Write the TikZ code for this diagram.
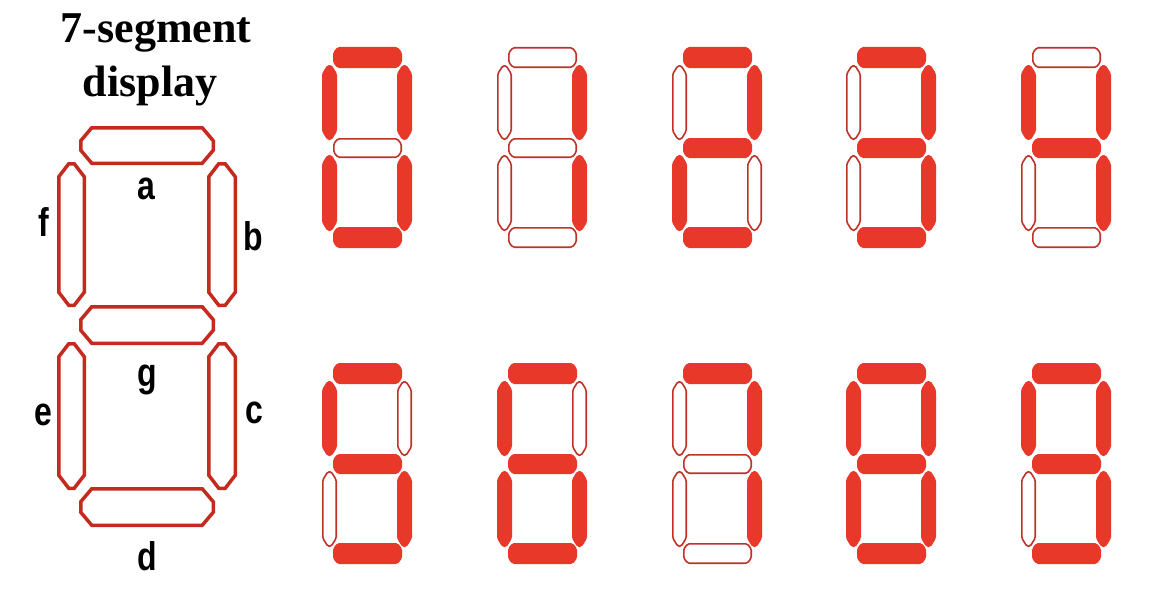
\documentclass[tikz,border=0pt]{standalone}
\usepackage{fontspec}
\setmainfont{Liberation Serif}
\newfontfamily\labfont{Liberation Sans}
\definecolor{litred}{HTML}{E8382A}
\definecolor{offred}{HTML}{BE3328}
\definecolor{bigred}{HTML}{C42A1E}
% octagonal segment: [style]{x1}{y1}{x2}{y2}{cx}{cy}{inset}
\newcommand{\octseg}[8][]{%
  \path[#1] ({#2+#8+#6},{#3+#8}) -- ({#4-#8-#6},{#3+#8}) -- ({#4-#8},{#3+#8+#7}) --
    ({#4-#8},{#5-#8-#7}) -- ({#4-#8-#6},{#5-#8}) -- ({#2+#8+#6},{#5-#8}) --
    ({#2+#8},{#5-#8-#7}) -- ({#2+#8},{#3+#8+#7}) -- cycle;}
% small digit: {ox}{oy}{a}{b}{c}{d}{e}{f}{g}
\newcommand{\smalldigit}[9]{%
  \octseg[s#3]{#1+11}{#2+0}{#1+80}{#2+21}{4}{5}{0.8}
  \octseg[s#4]{#1+75}{#2+18}{#1+90}{#2+93}{5}{8}{0.8}
  \octseg[s#5]{#1+75}{#2+108}{#1+90}{#2+184}{5}{8}{0.8}
  \octseg[s#6]{#1+11}{#2+180}{#1+80}{#2+201}{4}{5}{0.8}
  \octseg[s#7]{#1+0}{#2+108}{#1+15}{#2+184}{5}{8}{0.8}
  \octseg[s#8]{#1+0}{#2+18}{#1+15}{#2+93}{5}{8}{0.8}
  \octseg[s#9]{#1+11}{#2+91}{#1+80}{#2+111}{4}{5}{0.8}}
\tikzset{
  s1/.style={fill=litred, draw=litred, line width=1.6pt, rounded corners=1.5pt},
  s0/.style={draw=offred, line width=1.6pt, rounded corners=1.5pt},
  bigseg/.style={draw=bigred, line width=3.5pt},
  seglabel/.style={font=\labfont\bfseries\fontsize{32}{32}\selectfont, inner sep=0pt, yscale=1.25, transform shape},
  title/.style={font=\bfseries\fontsize{44}{44}\selectfont, inner sep=0pt, anchor=base}
}
\begin{document}
\begin{tikzpicture}[x=1pt, y=-1pt]
\path[use as bounding box, fill=white] (0,0) rectangle (1150,594);
% title
\node[title] (t1) at (156,42) {7-segment};
\node[title] (t2) at (150,96) {display};
% big display
\octseg[bigseg]{79}{126}{215}{165}{11}{13}{1.75}
\octseg[bigseg]{79}{305}{215}{345}{11}{13}{1.75}
\octseg[bigseg]{79}{487}{215}{527}{11}{13}{1.75}
\octseg[bigseg]{57}{162}{86}{307}{10}{13}{1.75}
\octseg[bigseg]{57}{342}{86}{490}{10}{13}{1.75}
\octseg[bigseg]{207}{162}{237}{307}{10}{13}{1.75}
\octseg[bigseg]{207}{342}{237}{490}{10}{13}{1.75}
% labels
\node[seglabel] (la) at (146,189) {a};
\node[seglabel] (lb) at (253,236) {b};
\node[seglabel] (lc) at (254,413) {c};
\node[seglabel] (ld) at (147,556) {d};
\node[seglabel] (le) at (43,415) {e};
\node[seglabel] (lf) at (44,222) {f};
\node[seglabel] (lg) at (147,380) {g};
% digits 0-4
\smalldigit{322}{47}{1}{1}{1}{1}{1}{1}{0}
\smalldigit{497}{47}{0}{1}{1}{0}{0}{0}{0}
\smalldigit{672}{47}{1}{1}{0}{1}{1}{0}{1}
\smalldigit{846}{47}{1}{1}{1}{1}{0}{0}{1}
\smalldigit{1021}{47}{0}{1}{1}{0}{0}{1}{1}
% digits 5-9
\smalldigit{322}{363}{1}{0}{1}{1}{0}{1}{1}
\smalldigit{497}{363}{1}{0}{1}{1}{1}{1}{1}
\smalldigit{672}{363}{1}{1}{1}{0}{0}{0}{0}
\smalldigit{846}{363}{1}{1}{1}{1}{1}{1}{1}
\smalldigit{1021}{363}{1}{1}{1}{1}{0}{1}{1}
\end{tikzpicture}
\end{document}
